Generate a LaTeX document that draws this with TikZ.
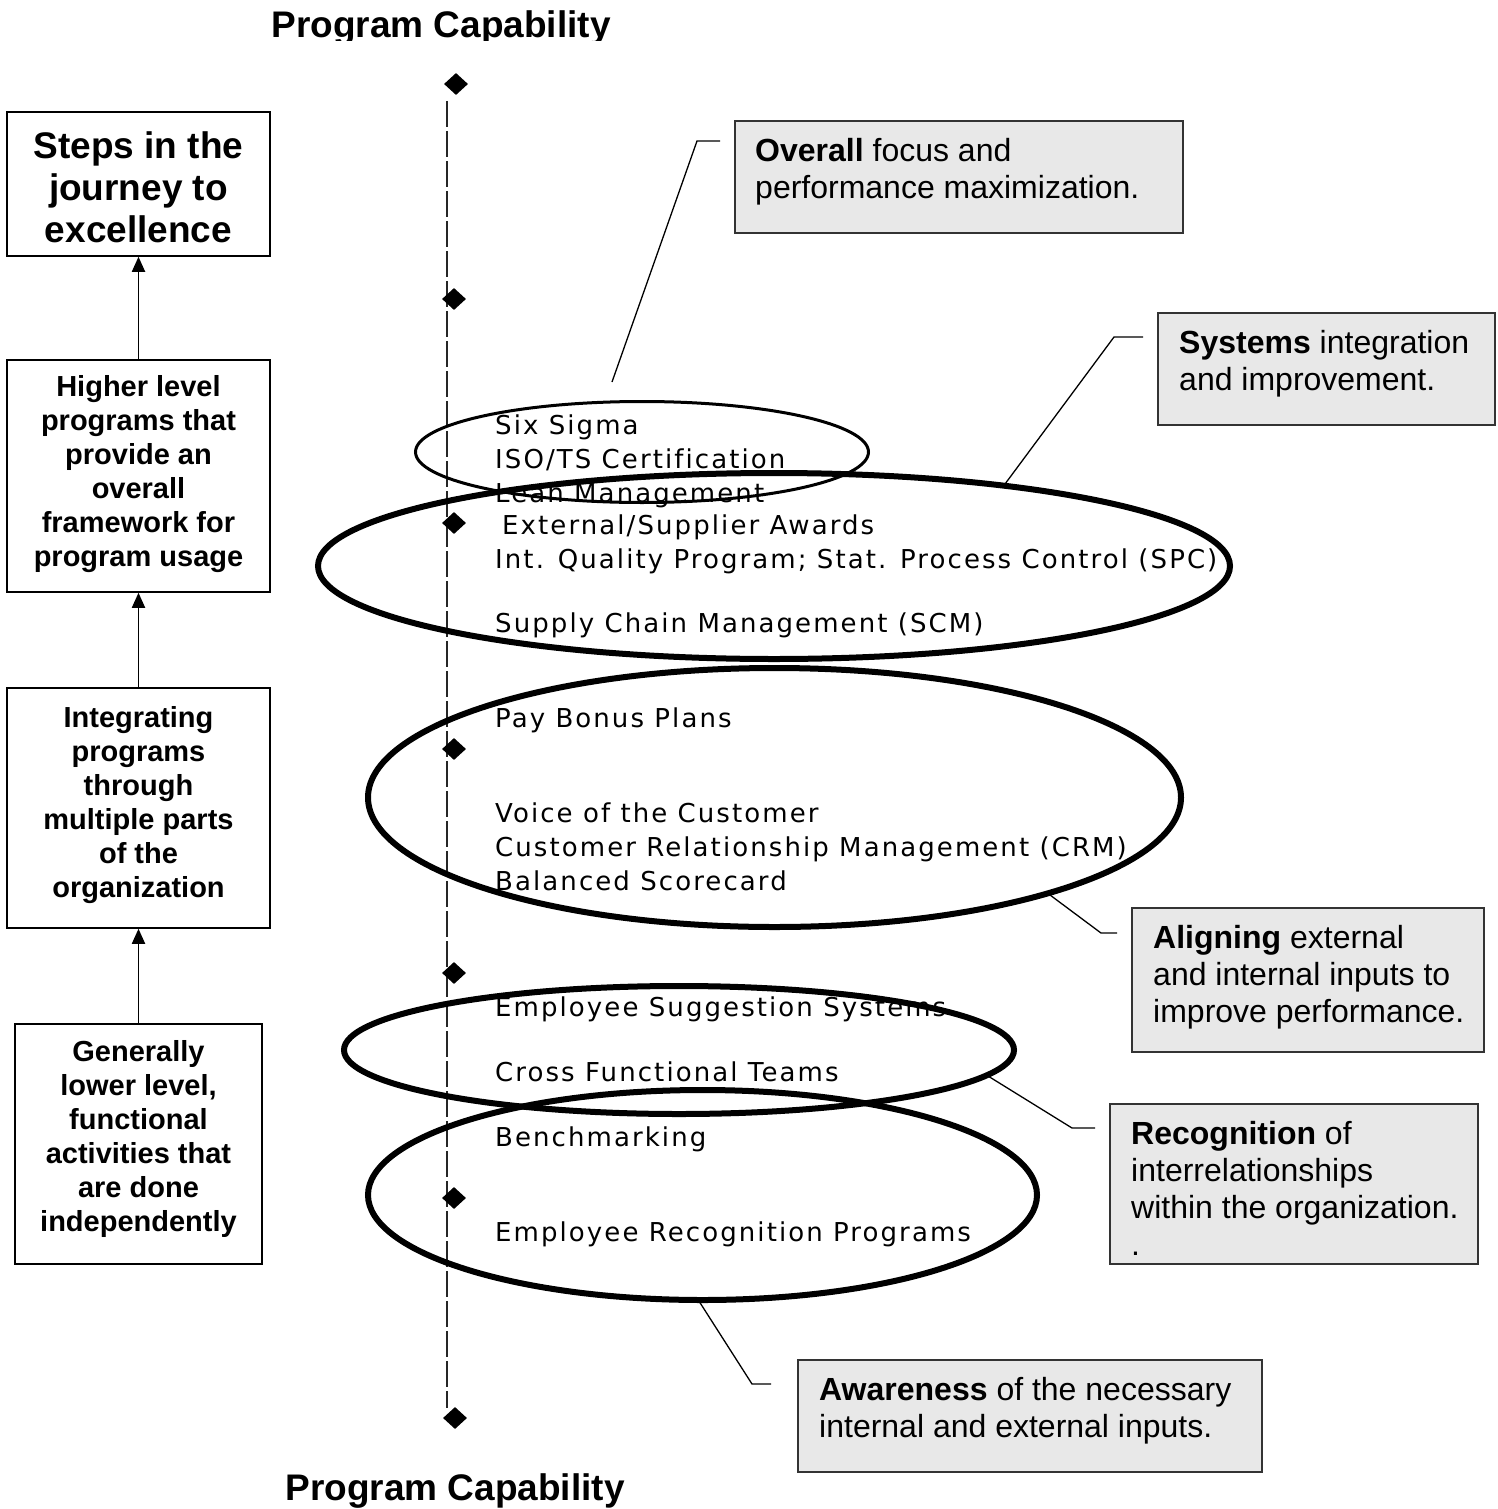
\documentclass[tikz,border=0pt]{standalone}
\usepackage{fontspec}
\setmainfont{Liberation Sans}
\newfontfamily\midfont[LetterSpace=8,Ligatures=NoCommon]{DejaVu Sans}
\usetikzlibrary{arrows.meta,shapes.geometric}
\begin{document}
\begin{tikzpicture}[x=1pt,y=-1pt,
  stepbox/.style={draw=black,line width=1.5pt,inner sep=0pt,rectangle},
  steptext/.style={align=center,font=\bfseries\fontsize{29}{34}\selectfont,inner sep=0pt,anchor=base},
  callbox/.style={draw=black!80,fill=black!9,line width=1.5pt,inner sep=0pt,rectangle},
  calltext/.style={align=left,font=\fontsize{32}{37}\selectfont,inner sep=0pt,anchor=base west},
  prog/.style={font=\midfont\fontsize{26}{34}\selectfont,inner sep=0pt,anchor=base west},
  dia/.style={diamond,fill=black,inner sep=0pt,minimum width=24pt,minimum height=22pt},
  ring/.style={draw=black,line width=6pt},
  lead/.style={draw=black,line width=1.3pt},
  uparrow/.style={draw=black,line width=1.8pt,-{Triangle[length=15pt,width=13pt]}},
  title/.style={font=\bfseries\fontsize{37}{42}\selectfont,inner sep=0pt,anchor=base},
]
\useasboundingbox (0,0) rectangle (1497,1509);

% titles
\begin{scope}
  \clip (0,0) rectangle (1497,41);
  \node[title] (toptitle) at (441,38) {Program Capability};
\end{scope}
\node[title] (bottitle) at (455,1500) {Program Capability};

% left step boxes (text anchors at the baseline of the last line)
\node[stepbox,minimum width=263pt,minimum height=144pt] (b1) at (138.5,184) {};
\node[stepbox,minimum width=263pt,minimum height=232pt] (b2) at (138.5,476) {};
\node[stepbox,minimum width=263pt,minimum height=240pt] (b3) at (138.5,808) {};
\node[stepbox,minimum width=247pt,minimum height=240pt] (b4) at (138.5,1144) {};
\node[steptext,font=\bfseries\fontsize{37}{42}\selectfont] (t1) at (138.5,242) {Steps in the\\journey to\\excellence};
\node[steptext] (t2) at (138.5,566) {Higher level\\programs that\\provide an\\overall\\framework for\\program usage};
\node[steptext] (t3) at (138.5,897) {Integrating\\programs\\through\\multiple parts\\of the\\organization};
\node[steptext] (t4) at (138.5,1231) {Generally\\lower level,\\functional\\activities that\\are done\\independently};
\draw[uparrow] (b4.north) -- (b3.south);
\draw[uparrow] (b3.north) -- (b2.south);
\draw[uparrow] (b2.north) -- (b1.south);

% dashed axis with diamonds
\coordinate (axtop) at (447,101);
\coordinate (axbot) at (447,1408);
\draw[black!85,line width=1.5pt,dash pattern=on 26pt off 4pt] (axtop) -- (axbot);
\node[dia] (d1) at (456,84) {};
\node[dia] (d2) at (454,299) {};
\node[dia] (d3) at (454,523) {};
\node[dia] (d4) at (454,749) {};
\node[dia] (d5) at (454,973) {};
\node[dia] (d6) at (454,1198) {};
\node[dia] (d7) at (455,1418) {};

% program texts
\node[prog] (p1) at (495,434) {Six Sigma};
\node[prog] (p2) at (495,468) {ISO/TS Certification};
\node[prog] (p3) at (495,502) {Lean Management};
\node[prog] (p4) at (502,534) {External/Supplier Awards};
\node[prog] (p5) at (495,568) {Int. Quality Program; Stat. Process Control (SPC)};
\node[prog] (p6) at (495,632) {Supply Chain Management (SCM)};
\node[prog] (p7) at (495,727) {Pay Bonus Plans};
\node[prog] (p8) at (495,822) {Voice of the Customer};
\node[prog] (p9) at (495,856) {Customer Relationship Management (CRM)};
\node[prog] (p10) at (495,890) {Balanced Scorecard};
\node[prog] (p11) at (495,1016) {Employee Suggestion Systems};
\node[prog] (p12) at (495,1081) {Cross Functional Teams};
\node[prog] (p13) at (495,1146) {Benchmarking};
\node[prog] (p14) at (495,1241) {Employee Recognition Programs};

% ellipses
\draw[draw=black,line width=3pt] (642,452) ellipse [x radius=226.5pt, y radius=50.5pt];
\draw[ring] (774,566) ellipse [x radius=456pt, y radius=93pt];
\draw[ring] (774.5,797.5) ellipse [x radius=406.5pt, y radius=129.5pt];
\draw[ring] (679,1050) ellipse [x radius=335pt, y radius=64pt];
\draw[ring] (702.5,1195) ellipse [x radius=334.5pt, y radius=105pt];

% callout boxes
\node[callbox,minimum width=448pt,minimum height=112pt] (c1) at (959,177) {};
\node[callbox,minimum width=337pt,minimum height=112pt] (c2) at (1326.5,369) {};
\node[callbox,minimum width=352pt,minimum height=144pt] (c3) at (1308,980) {};
\node[callbox,minimum width=368pt,minimum height=160pt] (c4) at (1294,1184) {};
\node[callbox,minimum width=464pt,minimum height=112pt] (c5) at (1030,1416) {};
\node[calltext] (c1t) at (755,198) {{\bfseries Overall} focus and\\performance maximization.};
\node[calltext] (c2t) at (1179,390) {{\bfseries Systems} integration\\and improvement.};
\node[calltext] (c3t) at (1153,1022) {{\bfseries Aligning} external\\and internal inputs to\\improve performance.};
\node[calltext] (c4t) at (1131,1255) {{\bfseries Recognition} of\\interrelationships\\within the organization.\\.};
\node[calltext] (c5t) at (819,1437) {{\bfseries Awareness} of the necessary\\internal and external inputs.};

% callout leaders
\coordinate (l1a) at (612,382); \coordinate (l1b) at (697,141); \coordinate (l1c) at (720,141);
\coordinate (l2a) at (1005,484); \coordinate (l2b) at (1114,337); \coordinate (l2c) at (1143,337);
\coordinate (l3a) at (1050,895); \coordinate (l3b) at (1101,933); \coordinate (l3c) at (1117,933);
\coordinate (l4a) at (988,1076); \coordinate (l4b) at (1072,1128); \coordinate (l4c) at (1095,1128);
\coordinate (l5a) at (697,1298); \coordinate (l5b) at (752,1384); \coordinate (l5c) at (771,1384);
\draw[lead] (l1a) -- (l1b) -- (l1c);
\draw[lead] (l2a) -- (l2b) -- (l2c);
\draw[lead] (l3a) -- (l3b) -- (l3c);
\draw[lead] (l4a) -- (l4b) -- (l4c);
\draw[lead] (l5a) -- (l5b) -- (l5c);
\end{tikzpicture}
\end{document}
